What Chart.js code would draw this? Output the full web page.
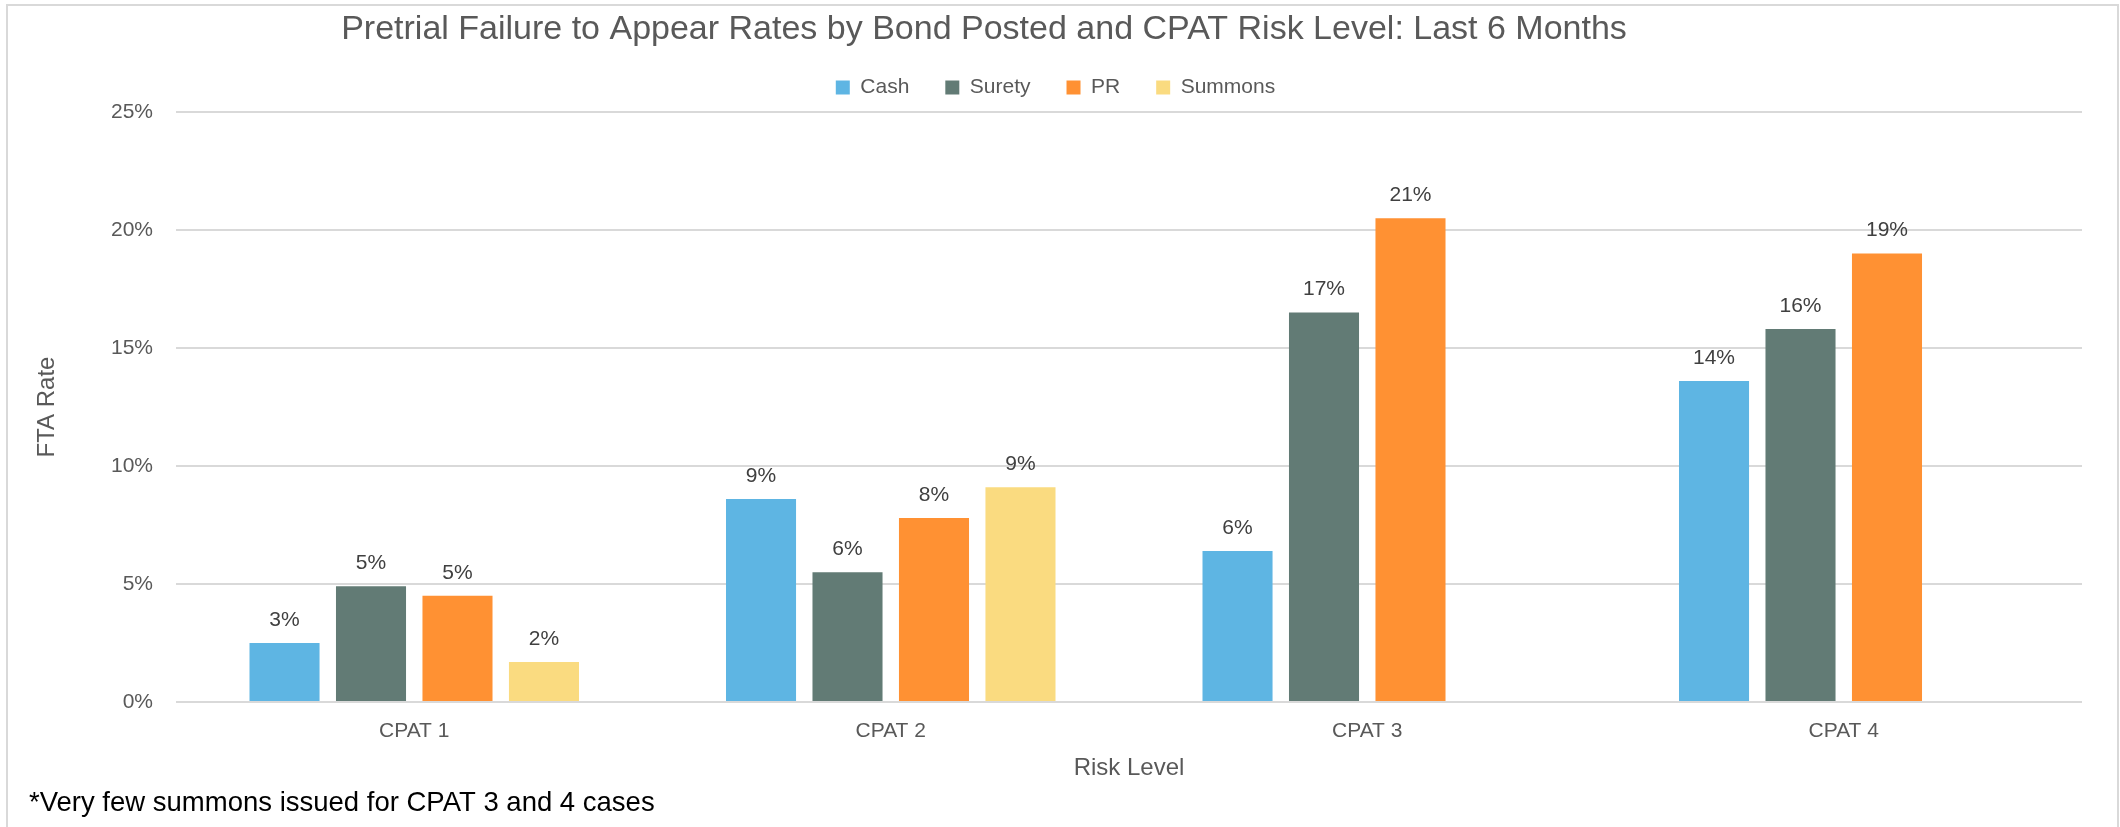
<!DOCTYPE html>
<html>
<head>
<meta charset="utf-8">
<script src="https://cdn.jsdelivr.net/npm/chart.js@4.4.1/dist/chart.umd.min.js"></script>
<style>
  html, body { margin: 0; padding: 0; background: #fff; }
</style>
</head>
<body>
<canvas id="Graph" width="2120" height="827"></canvas>
<script>
let canvas = document.getElementById("Graph");

const categories = ['CPAT 1', 'CPAT 2', 'CPAT 3', 'CPAT 4'];
const cashRates = [2.5, 8.6, 6.4, 13.6];
const suretyRates = [4.9, 5.5, 16.5, 15.8];
const prRates = [4.5, 7.8, 20.5, 19.0];
const summonsRates = [1.7, 9.1, null, null];  // too few summons for CPAT 3 / 4
const yTicks = [0, 5, 10, 15, 20, 25];
const footnote = '*Very few summons issued for CPAT 3 and 4 cases';

const GRAY = '#595959';
Chart.defaults.font.family = '"Liberation Sans", Arial, sans-serif';
Chart.defaults.color = GRAY;

// white background + light frame round the whole chart
const frame = {
  id: 'frame',
  beforeDraw(chart) {
    const ctx = chart.ctx;
    ctx.save();
    ctx.fillStyle = '#fff';
    ctx.fillRect(0, 0, chart.width, chart.height);
    ctx.strokeStyle = '#d9d9d9';
    ctx.lineWidth = 2;
    ctx.strokeRect(7, 5, 2111, 840);
    ctx.restore();
  }
};

// percent labels above each bar
const valueLabels = {
  id: 'valueLabels',
  afterDatasetsDraw(chart) {
    const ctx = chart.ctx;
    ctx.save();
    ctx.font = '21px "Liberation Sans", Arial, sans-serif';
    ctx.fillStyle = '#404040';
    ctx.textAlign = 'center';
    ctx.textBaseline = 'middle';
    chart.data.datasets.forEach((ds, i) => {
      chart.getDatasetMeta(i).data.forEach((bar, j) => {
        const v = ds.data[j];
        if (v == null) return;
        ctx.fillText(Math.round(v) + '%', bar.x, bar.y - 23);
      });
    });
    ctx.restore();
  }
};

// small layout nudges: a bit more room under the legend, title sits left of centre
const nudges = {
  id: 'nudges',
  beforeLayout(chart) {
    const lg = chart.legend;
    if (lg && !lg.fitPatched) {
      const fit = lg.fit;
      lg.fit = function () { fit.call(this); this.height += 4; };
      lg.fitPatched = true;
    }
  },
  afterLayout(chart) {
    chart.titleBlock.right -= 143;
  }
};

const data = {
  labels: categories,
  datasets: [
    { label: 'Cash', data: cashRates, backgroundColor: '#5eb5e3' },
    { label: 'Surety', data: suretyRates, backgroundColor: '#627b75' },
    { label: 'PR', data: prRates, backgroundColor: '#ff9133' },
    { label: 'Summons', data: summonsRates, backgroundColor: '#fadb80' }
  ]
};

const config = {
  type: 'bar',
  data: data,
  options: {
    responsive: false,
    animation: false,
    datasets: {
      bar: { categoryPercentage: 0.726, barPercentage: 0.81, borderWidth: 0 }
    },
    layout: { padding: { left: 29, right: 38, top: 0, bottom: 0 } },
    plugins: {
      tooltip: { enabled: false },
      title: {
        display: true,
        text: 'Pretrial Failure to Appear Rates by Bond Posted and CPAT Risk Level: Last 6 Months',
        color: GRAY,
        font: { size: 34, weight: 'normal' },
        padding: { top: 9, bottom: -8.8 }
      },
      legend: {
        position: 'top',
        labels: {
          color: GRAY,
          font: { size: 21 },
          boxWidth: 14,
          boxHeight: 14,
          padding: 36
        }
      },
      subtitle: {
        display: true,
        position: 'bottom',
        align: 'start',
        text: footnote,
        color: '#000',
        font: { size: 27.5, weight: 'normal' },
        padding: { top: 2, bottom: 7.5 }
      }
    },
    scales: {
      x: {
        grid: { display: false, drawTicks: false },
        border: { display: false },
        ticks: { color: GRAY, font: { size: 21 }, padding: 16.4 },
        title: {
          display: true,
          text: 'Risk Level',
          color: GRAY,
          font: { size: 24 },
          padding: { top: 0, bottom: 2 }
        },
        afterFit: s => { s.height = 82.5; }
      },
      y: {
        min: 0,
        max: 25,
        grid: { color: '#d9d9d9', lineWidth: 2, drawTicks: false },
        border: { display: false },
        ticks: {
          color: GRAY,
          font: { size: 21 },
          padding: 23,
          callback: v => v + '%'
        },
        afterBuildTicks: s => { s.ticks = yTicks.map(v => ({ value: v })); },
        title: {
          display: true,
          text: 'FTA Rate',
          color: GRAY,
          font: { size: 24 },
          padding: { top: 3.6, bottom: 0 }
        },
        afterFit: s => { s.width = 147; }
      }
    }
  },
  plugins: [frame, valueLabels, nudges]
};

const chart = new Chart(canvas, config);
</script>
</body>
</html>
